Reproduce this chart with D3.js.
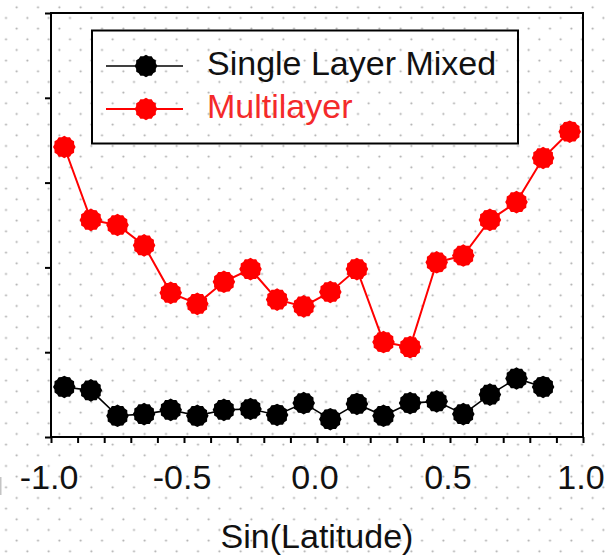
<!DOCTYPE html>
<html>
<head>
<meta charset="utf-8">
<script src="https://cdn.jsdelivr.net/npm/d3@7/dist/d3.min.js"></script>
<style>
  html, body { margin: 0; padding: 0; background: #fff; }
  svg { display: block; }
  text { font-family: "Liberation Sans", Arial, sans-serif; }
</style>
</head>
<body>
<script>
// Zonal profile against sin(latitude), bin centres every 0.1
const singleX = [-0.95, -0.85, -0.75, -0.65, -0.55, -0.45, -0.35, -0.25, -0.15, -0.05,
                 0.05, 0.15, 0.25, 0.35, 0.45, 0.55, 0.65, 0.75, 0.85];
const singleY = [0.59, 0.55, 0.25, 0.27, 0.32, 0.25, 0.32, 0.33, 0.26, 0.40,
                 0.21, 0.39, 0.25, 0.40, 0.42, 0.27, 0.50, 0.69, 0.59];

const multiX = [-0.95, -0.85, -0.75, -0.65, -0.55, -0.45, -0.35, -0.25, -0.15, -0.05,
                0.05, 0.15, 0.25, 0.35, 0.45, 0.55, 0.65, 0.75, 0.85, 0.95];
const multiY = [3.42, 2.56, 2.50, 2.26, 1.70, 1.57, 1.83, 1.98, 1.62, 1.54,
                1.71, 1.98, 1.12, 1.06, 2.06, 2.14, 2.56, 2.77, 3.29, 3.60];

const seriesNames = ["Single Layer Mixed", "Multilayer"];
const seriesColors = ["#000000", "#ff0000"];
const labelColors = ["#111111", "#f42a2a"];

const xMajorTicks = [-1.0, -0.5, 0.0, 0.5, 1.0];
const xTickLabels = ["-1.0", "-0.5", "0.0", "0.5", "1.0"];
const yTicks = [0, 1, 2, 3, 4, 5];
const xTitle = "Sin(Latitude)";

const W = 607, H = 556;
const plot = { left: 51, right: 583, top: 13, bottom: 437 };

const svg = d3.select("body").append("svg")
  .attr("width", W).attr("height", H);

// staggered dotted background
const defs = svg.append("defs");
const cell = 32 / 3;
const pat = defs.append("pattern")
  .attr("id", "dots")
  .attr("patternUnits", "userSpaceOnUse")
  .attr("width", cell * 2).attr("height", cell * 2)
  .attr("x", 16.7 - cell / 2).attr("y", 7.3 - cell / 2);
pat.append("circle").attr("cx", cell / 2).attr("cy", cell / 2).attr("r", 1.05).attr("fill", "#a9a9a9");
pat.append("circle").attr("cx", cell * 1.5).attr("cy", cell * 1.5).attr("r", 1.05).attr("fill", "#a9a9a9");

svg.append("rect").attr("width", W).attr("height", H).attr("fill", "#fff");
svg.append("rect").attr("width", W).attr("height", H).attr("fill", "url(#dots)");

// faint clipped mark at the left edge
svg.append("rect").attr("x", 0).attr("y", 477).attr("width", 1.5).attr("height", 18).attr("fill", "#c4c4c4");

const x = d3.scaleLinear().domain([-1, 1]).range([plot.left, plot.right]);
const y = d3.scaleLinear().domain([0, 5]).range([plot.bottom, plot.top]);

// x ticks every 0.1, labels at the majors
const xMinor = d3.range(-10, 11).map(i => i / 10);
const xAxis = svg.append("g")
  .attr("transform", `translate(0,${plot.bottom})`)
  .call(d3.axisBottom(x).tickValues(xMinor).tickSize(6).tickFormat(""));
xAxis.select(".domain").remove();
xAxis.selectAll(".tick line").attr("stroke", "#000").attr("stroke-width", 2);

const yAxis = svg.append("g")
  .attr("transform", `translate(${plot.left},0)`)
  .call(d3.axisLeft(y).tickValues(yTicks).tickSize(6).tickFormat(""));
yAxis.select(".domain").remove();
yAxis.selectAll(".tick line").attr("stroke", "#000").attr("stroke-width", 2);

// frame
svg.append("rect")
  .attr("x", plot.left).attr("y", plot.top)
  .attr("width", plot.right - plot.left).attr("height", plot.bottom - plot.top)
  .attr("fill", "none").attr("stroke", "#000").attr("stroke-width", 2);

svg.append("g").selectAll("text")
  .data(xMajorTicks)
  .join("text")
  .attr("x", d => x(d) - 2)
  .attr("y", 489)
  .attr("text-anchor", "middle")
  .attr("font-size", 34)
  .attr("fill", "#111")
  .text((d, i) => xTickLabels[i]);

svg.append("text")
  .attr("x", (plot.left + plot.right) / 2)
  .attr("y", 548)
  .attr("text-anchor", "middle")
  .attr("font-size", 34)
  .attr("fill", "#111")
  .text(xTitle);

// scalloped round marker
const bumps = 12;
const markerPath = d3.lineRadial().curve(d3.curveLinearClosed)(
  d3.range(bumps * 2).map(i => [i * Math.PI / bumps, i % 2 ? 10.2 : 11.3])
);

function drawSeries(xs, ys, color, strokeW) {
  const pts = xs.map((v, i) => [x(v), y(ys[i])]);
  const g = svg.append("g");
  g.append("path")
    .attr("d", d3.line()(pts))
    .attr("fill", "none")
    .attr("stroke", color)
    .attr("stroke-width", strokeW);
  g.selectAll("path.mk")
    .data(pts)
    .join("path")
    .attr("class", "mk")
    .attr("d", markerPath)
    .attr("transform", d => `translate(${d[0]},${d[1]})`)
    .attr("fill", color);
}

drawSeries(multiX, multiY, seriesColors[1], 2);
drawSeries(singleX, singleY, seriesColors[0], 1.6);

// legend
const legend = svg.append("g");
legend.append("rect")
  .attr("x", 92).attr("y", 30.5).attr("width", 426).attr("height", 113)
  .attr("fill", "none").attr("stroke", "#000").attr("stroke-width", 2);

const rowsY = [66, 109];
seriesNames.forEach((name, i) => {
  const ry = rowsY[i];
  legend.append("line")
    .attr("x1", 106).attr("x2", 183).attr("y1", ry).attr("y2", ry)
    .attr("stroke", seriesColors[i]).attr("stroke-width", i ? 2 : 1.6);
  legend.append("path")
    .attr("d", markerPath)
    .attr("transform", `translate(146,${ry})`)
    .attr("fill", seriesColors[i]);
  legend.append("text")
    .attr("x", 207).attr("y", ry + 8.5)
    .attr("font-size", 34)
    .attr("fill", labelColors[i])
    .text(name);
});
</script>
</body>
</html>
